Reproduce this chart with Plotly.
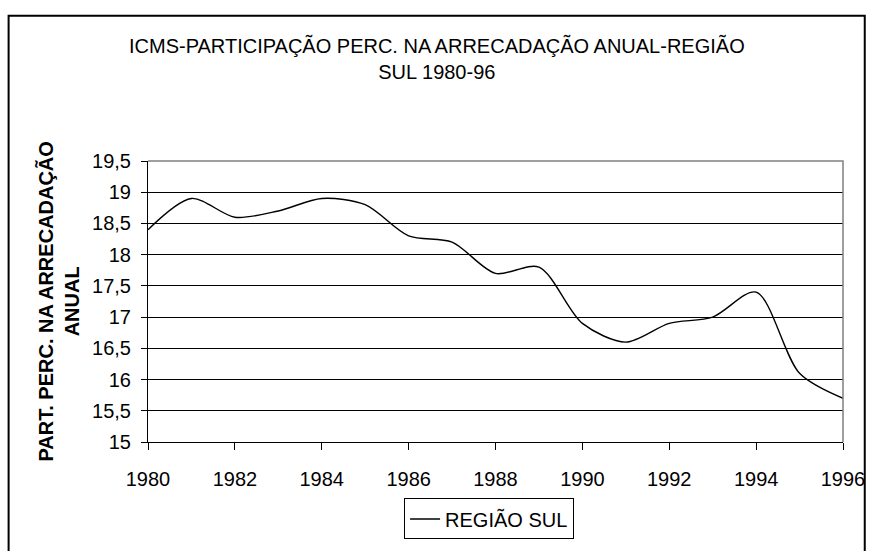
import plotly.graph_objects as go

years = [1980, 1981, 1982, 1983, 1984, 1985, 1986, 1987, 1988,
         1989, 1990, 1991, 1992, 1993, 1994, 1995, 1996]
regiao_sul = [18.4, 18.9, 18.6, 18.7, 18.9, 18.8, 18.3, 18.2, 17.7,
              17.8, 16.9, 16.6, 16.9, 17.0, 17.4, 16.1, 15.7]

title_lines = ["ICMS-PARTICIPAÇÃO PERC. NA ARRECADAÇÃO ANUAL-REGIÃO", "SUL 1980-96"]
y_title_lines = ["PART. PERC. NA ARRECADAÇÃO", "ANUAL"]
series_name = "REGIÃO SUL"

FONT = "Arial, Liberation Sans, sans-serif"

fig = go.Figure()
fig.add_trace(go.Scatter(
    x=years, y=regiao_sul, mode="lines", name=series_name,
    line=dict(color="black", width=1.4, shape="spline", smoothing=0.85),
    showlegend=True,
))

L, R, T, B = 148, 26, 161, 98
W, H = 877, 551
pw, ph = W - L - R, H - T - B

def px(xp):
    return (xp - L) / pw

def py(yp):
    return (H - B - yp) / ph

fig.update_layout(
    width=W, height=H,
    margin=dict(l=L, r=R, t=T, b=B, pad=0),
    paper_bgcolor="white", plot_bgcolor="white",
    font=dict(family=FONT, size=20, color="black"),
    separators=",.",
    showlegend=True,
    legend=dict(
        orientation="h", x=px(493), y=py(533), xanchor="center", yanchor="middle",
        bordercolor="black", borderwidth=1, bgcolor="white",
        font=dict(family=FONT, size=20, color="black"),
        itemwidth=30, tracegroupgap=0,
    ),
    xaxis=dict(
        range=[1980, 1996], tick0=1980, dtick=2, showgrid=False,
        showline=True, linecolor="black", linewidth=1,
        ticks="outside", ticklen=7, tickcolor="black", tickwidth=1,
        ticklabelstandoff=12,
        zeroline=False, tickfont=dict(size=20),
    ),
    yaxis=dict(
        range=[15, 19.5], tick0=15, dtick=0.5, showgrid=True,
        gridcolor="black", gridwidth=1,
        showline=True, linecolor="black", linewidth=1,
        ticks="outside", ticklen=6, tickcolor="black", tickwidth=1,
        ticklabelstandoff=6,
        zeroline=False, tickfont=dict(size=20),
    ),
    shapes=[
        # plot area frame, top and right edges (grey)
        dict(type="path", xref="paper", yref="paper",
             path="M 0,1 L 1,1 L 1,0",
             line=dict(color="#808080", width=1.5), layer="above"),
        # outer chart border (bottom edge lies beyond the visible picture)
        dict(type="rect", xref="paper", yref="paper",
             x0=px(7), x1=px(873), y0=py(700), y1=py(10),
             line=dict(color="black", width=2), layer="below"),
    ],
    annotations=[
        dict(text="<br>".join(title_lines), xref="paper", yref="paper",
             x=px(440), y=py(54), xanchor="center", yanchor="middle",
             showarrow=False, font=dict(family=FONT, size=20, color="black")),
        dict(text="<b>" + "<br>".join(y_title_lines) + "</b>", xref="paper", yref="paper",
             x=px(57), y=py(307), xanchor="center", yanchor="middle", textangle=-90,
             showarrow=False, font=dict(family=FONT, size=20, color="black")),
    ],
)

fig.write_html(
    "out.html",
    config={"displayModeBar": False},
    post_script="document.body.style.margin='0';document.body.style.overflow='hidden';",
)
